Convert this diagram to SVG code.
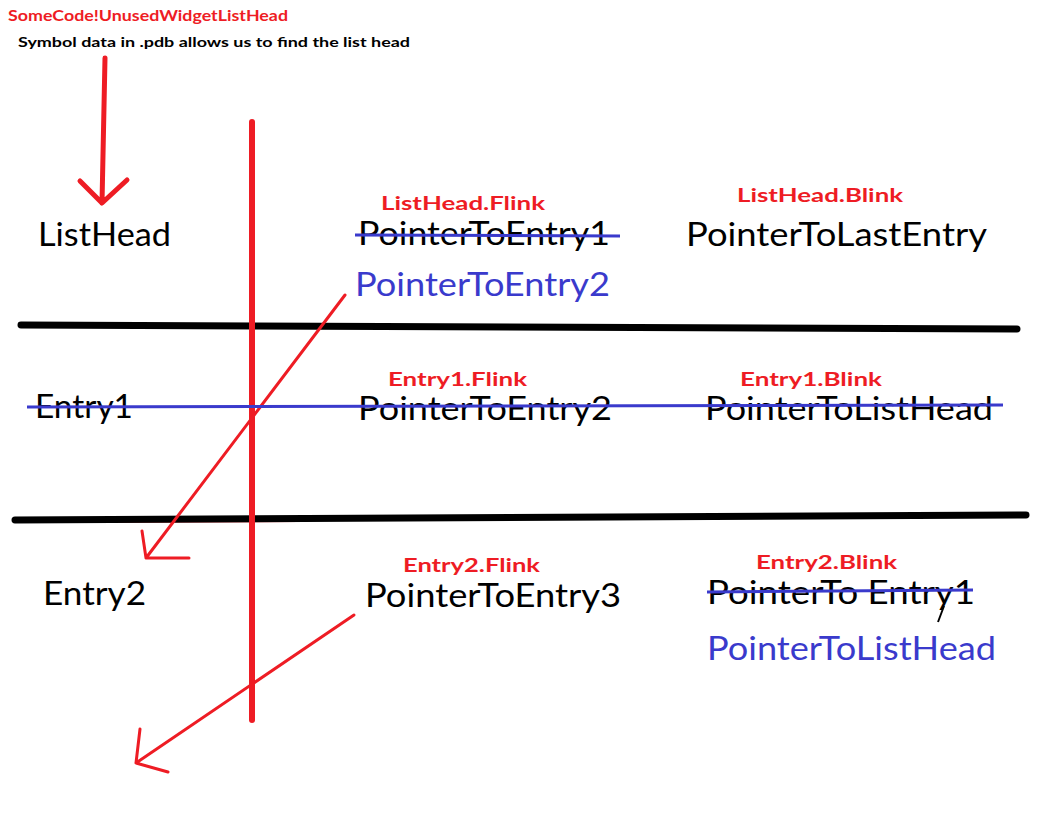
<svg xmlns="http://www.w3.org/2000/svg" width="1051" height="827" viewBox="0 0 1051 827">
<style>
.t{font-family:Lato,"Liberation Sans",sans-serif;font-size:32px;fill:#000}
.b{fill:#3a3acc}
.r{font-family:Lato,"Liberation Sans",sans-serif;font-size:19px;font-weight:bold;fill:#ee1c24}
.red{stroke:#ee1c24;fill:none;stroke-linecap:round;stroke-linejoin:round}
.blk{stroke:#000;fill:none;stroke-linecap:round;stroke-width:7}
.strike{stroke:#3a3acc;stroke-width:3;fill:none}
</style>
<rect width="1051" height="827" fill="#fff"/>
<g id="title">
<text x="8" y="21" font-family="Lato,'Liberation Sans',sans-serif" font-size="15" font-weight="bold" fill="#ee1c24" textLength="280" lengthAdjust="spacingAndGlyphs">SomeCode!UnusedWidgetListHead</text>
<text x="18" y="47" font-family="Lato,'Liberation Sans',sans-serif" font-size="14" font-weight="bold" fill="#000" textLength="392" lengthAdjust="spacingAndGlyphs">Symbol data in .pdb allows us to find the list head</text>
</g>
<g id="grid">
<line class="blk" x1="21" y1="325" x2="1017" y2="329"/>
<line x1="16" y1="522" x2="300" y2="521" stroke="#ee1c24" stroke-width="2"/>
<line class="blk" x1="15" y1="520" x2="1026" y2="515"/>
<line class="red" x1="252" y1="122" x2="252" y2="720" stroke-width="6"/>
</g>
<g id="connectors">
<path class="red" stroke-width="5" d="M105 58 L102 203 M80 181 L102 203 L127 180"/>
<path class="red" stroke-width="3" d="M345 295 L146 558 M142 531 L146 558 L189 558"/>
<path class="red" stroke-width="3" d="M354 615 L136 763 M140 729 L136 763 L168 772"/>
</g>
<g id="listhead">
<text class="t" x="38" y="246" textLength="133" lengthAdjust="spacingAndGlyphs">ListHead</text>
<text class="r" x="381" y="210" textLength="164" lengthAdjust="spacingAndGlyphs">ListHead.Flink</text>
<text class="t" x="358" y="245" textLength="252" lengthAdjust="spacingAndGlyphs">PointerToEntry1</text>
<line class="strike" x1="355" y1="235" x2="620" y2="236"/>
<text class="t b" x="355" y="296" textLength="255" lengthAdjust="spacingAndGlyphs">PointerToEntry2</text>
<text class="r" x="737" y="202" textLength="166" lengthAdjust="spacingAndGlyphs">ListHead.Blink</text>
<text class="t" x="686" y="246" textLength="301" lengthAdjust="spacingAndGlyphs">PointerToLastEntry</text>
</g>
<g id="entry1">
<text class="t" x="35" y="418" textLength="98" lengthAdjust="spacingAndGlyphs">Entry1</text>
<text class="r" x="388" y="386" textLength="139" lengthAdjust="spacingAndGlyphs">Entry1.Flink</text>
<text class="t" x="358" y="420" textLength="254" lengthAdjust="spacingAndGlyphs">PointerToEntry2</text>
<text class="r" x="740" y="386" textLength="142" lengthAdjust="spacingAndGlyphs">Entry1.Blink</text>
<text class="t" x="705" y="420" textLength="288" lengthAdjust="spacingAndGlyphs">PointerToListHead</text>
<line class="strike" x1="27" y1="407" x2="1003" y2="405"/>
</g>
<g id="entry2">
<text class="t" x="43" y="605" textLength="103" lengthAdjust="spacingAndGlyphs">Entry2</text>
<text class="r" x="403" y="572" textLength="137" lengthAdjust="spacingAndGlyphs">Entry2.Flink</text>
<text class="t" x="365" y="607" textLength="256" lengthAdjust="spacingAndGlyphs">PointerToEntry3</text>
<text class="r" x="756" y="569" textLength="141" lengthAdjust="spacingAndGlyphs">Entry2.Blink</text>
<text class="t" x="707" y="604" textLength="268" lengthAdjust="spacingAndGlyphs">PointerTo Entry1</text>
<line class="strike" x1="707" y1="592" x2="973" y2="590"/>
<line x1="944" y1="606" x2="938" y2="622" stroke="#000" stroke-width="2"/>
<text class="t b" x="707" y="660" textLength="289" lengthAdjust="spacingAndGlyphs">PointerToListHead</text>
</g>
</svg>
